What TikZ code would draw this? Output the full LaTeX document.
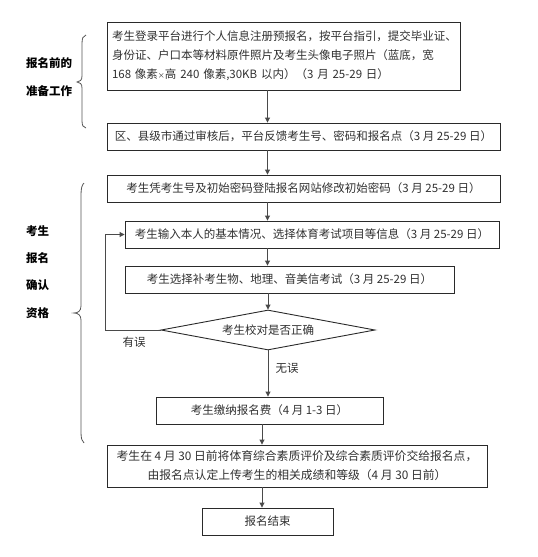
\documentclass[tikz,border=0pt]{standalone}
\usepackage{fontspec}
\setmainfont{Noto Sans CJK SC}
\usetikzlibrary{shapes.geometric,arrows.meta}
\definecolor{ln}{HTML}{2A2A2A}
\definecolor{tx}{HTML}{303030}
\tikzset{
  box/.style={draw=ln, line width=0.9pt, inner sep=0pt, text=tx, font=\fontsize{11.5}{19}\selectfont},
  dia/.style={draw=ln, line width=0.9pt, diamond, aspect=5.35, inner sep=0pt, text=tx, font=\fontsize{11.5}{14}\selectfont},
  arr/.style={draw=ln!85, line width=0.9pt, -{Triangle[length=5pt,width=5pt]}},
  lbl/.style={text=tx, font=\fontsize{11.5}{14}\selectfont},
  side/.style={text=black, font=\fontsize{11.5}{14}\selectfont\bfseries, anchor=west, inner sep=0pt},
  brc/.style={draw=ln!80, line width=0.8pt}
}
\begin{document}
\begin{tikzpicture}[x=1pt,y=-1pt]
\useasboundingbox (0,0) rectangle (538,557);
% boxes
\node[box, minimum width=353, minimum height=68, align=left, text width=343] (b1) at (283.5,56)
 {考生登录平台进行个人信息注册预报名，按平台指引，提交毕业证、\\身份证、户口本等材料原件照片及考生头像电子照片（蓝底，宽\\168 像素{\fontsize{7}{7}\selectfont ×}高 240 像素,30KB 以内）（3 月 25-29 日）};
\node[box, minimum width=393, minimum height=27] (b2) at (303.5,136.5)
 {区、县级市通过审核后，平台反馈考生号、密码和报名点（3 月 25-29 日）};
\node[box, minimum width=393, minimum height=27] (b3) at (303.5,188.5)
 {考生凭考生号及初始密码登陆报名网站修改初始密码（3 月 25-29 日）};
\node[box, minimum width=374, minimum height=27] (b4) at (312,234.5)
 {考生输入本人的基本情况、选择体育考试项目等信息（3 月 25-29 日）};
\node[box, minimum width=329, minimum height=27] (b5) at (289.5,279.5)
 {考生选择补考生物、地理、音美信考试（3 月 25-29 日）};
\node[dia, minimum width=214, minimum height=40] (d) at (268,330) {考生校对是否正确};
\node[box, minimum width=227, minimum height=27] (b6) at (269.5,410.5)
 {考生缴纳报名费（4 月 1-3 日）};
\node[box, minimum width=380, minimum height=42, align=center, font=\fontsize{11.8}{19}\selectfont] (b7) at (297,466)
 {考生在 4 月 30 日前将体育综合素质评价及综合素质评价交给报名点，\\由报名点认定上传考生的相关成绩和等级（4 月 30 日前）};
\node[box, minimum width=131, minimum height=27] (b8) at (267.5,521.5) {报名结束};
% arrow columns
\coordinate (ca) at (267.5,0);
\coordinate (cb) at (262,0);
\coordinate (lp) at (105,330);
\draw[arr] (b1.south -| ca) -- (b2.north -| ca);
\draw[arr] (b2.south -| ca) -- (b3.north -| ca);
\draw[arr] (b3.south -| ca) -- (b4.north -| ca);
\draw[arr] (b4.south -| ca) -- (b5.north -| ca);
\draw[arr] (b5.south -| d) -- (d.north);
\draw[arr] (d.south) -- (b6.north -| d);
\draw[arr] (b6.south -| cb) -- (b7.north -| cb);
\draw[arr] (b7.south -| cb) -- (b8.north -| cb);
\draw[arr] (d.west) -- (lp) |- (b4.west);
% edge labels
\node[lbl] (yw) at (134,342) {有误};
\node[lbl] (ww) at (287,368) {无误};
% side labels
\node[side] (s1) at (26,63) {报名前的};
\node[side] (s2) at (26,91) {准备工作};
\node[side] (s3) at (26,231) {考生};
\node[side] (s4) at (26,258) {报名};
\node[side] (s5) at (26,285) {确认};
\node[side] (s6) at (26,313) {资格};
% braces
\draw[brc] (86,35) .. controls (83,36) and (82,38) .. (82,44) -- (82,76)
  .. controls (82,80) and (80,82) .. (77,82) .. controls (80,82) and (82,84) .. (82,88)
  -- (82,120) .. controls (82,126) and (83,127) .. (86,128);
\draw[brc] (84,183) .. controls (82,185) and (81,188) .. (81,195) -- (81,306)
  .. controls (81,311) and (78,313) .. (74,313) .. controls (78,313) and (81,315) .. (81,320)
  -- (81,432) .. controls (81,439) and (82,441) .. (84,443);
\end{tikzpicture}
\end{document}
